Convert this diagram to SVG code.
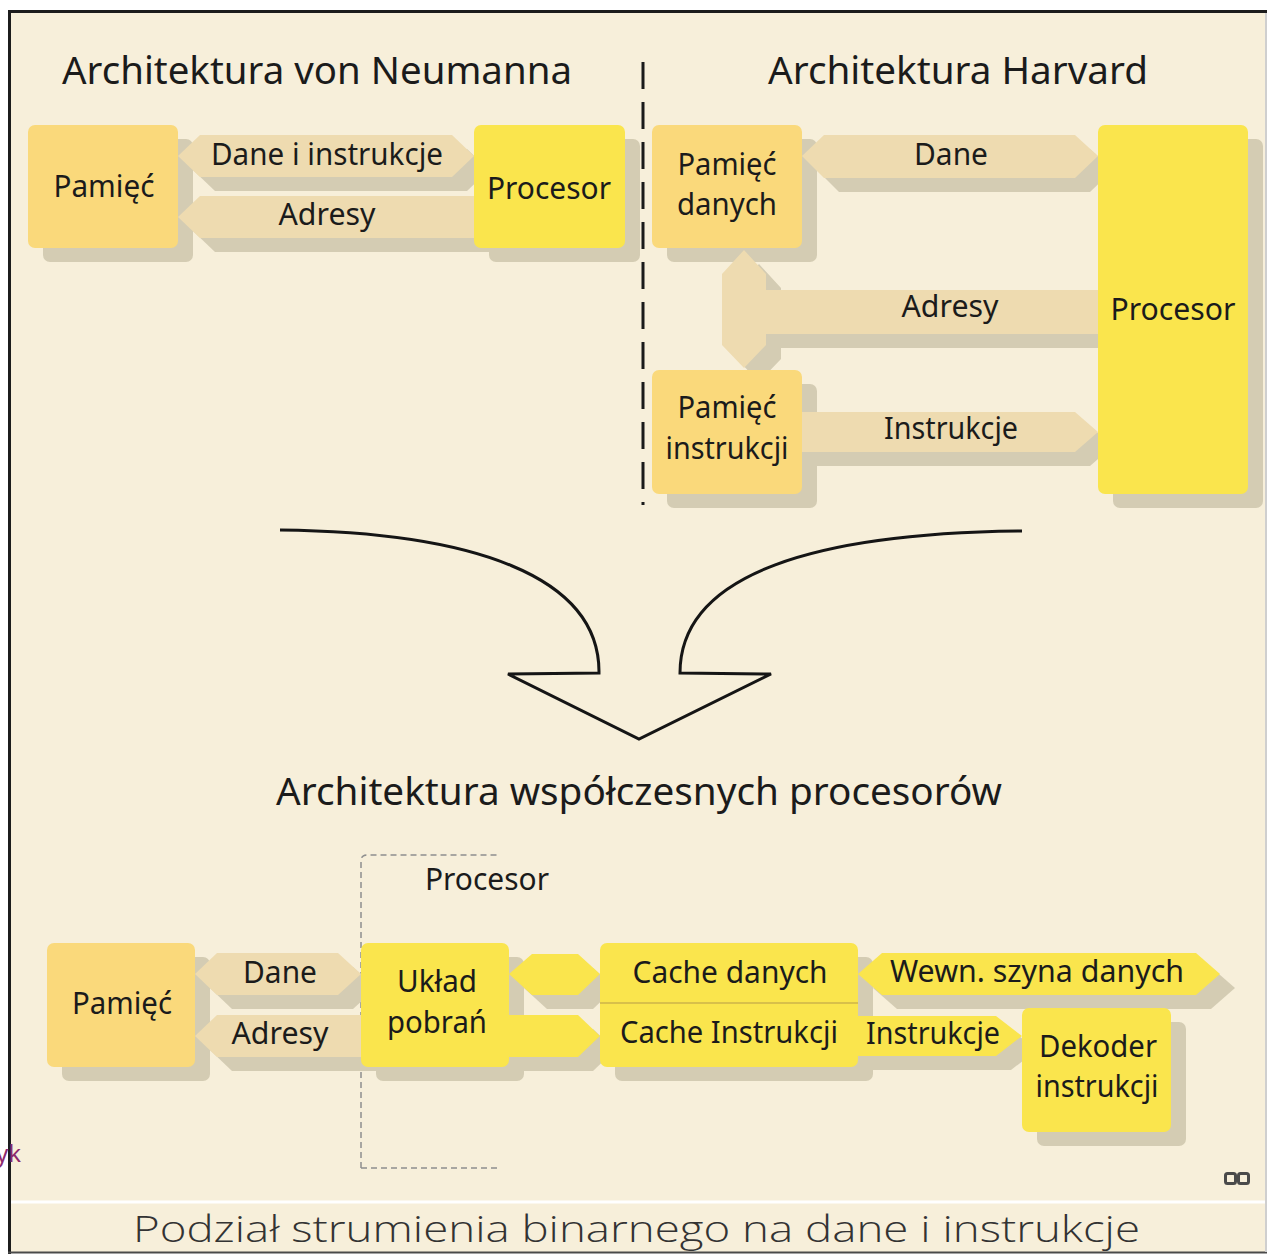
<svg xmlns="http://www.w3.org/2000/svg" width="1267" height="1254" viewBox="0 0 1267 1254">
  <style>
    text { font-family: "Noto Sans", "Open Sans", "DejaVu Sans", sans-serif; fill: #1b1b1b; }
    .lbl { font-size: 31px; text-anchor: middle; }
    .title { font-size: 39px; }
    .caption { font-family: "Open Sans", "DejaVu Sans", sans-serif; font-weight: 300; font-size: 37px; fill: #333333; }
    .mem { fill: #FAD97B; }
    .cpu { fill: #FAE54D; }
    .bus { fill: #EEDBB0; }
    .ybus { fill: #FAE54D; }
    .shadow { fill: #D4CCB3; }
  </style>

  <!-- page and frame -->
  <rect x="0" y="0" width="1267" height="1254" fill="#ffffff"/>
  <rect x="11" y="13" width="1254" height="1239" fill="#F7EFDA"/>
  <line x1="8" y1="11.5" x2="1267" y2="11.5" stroke="#1c1c1c" stroke-width="3"/>
  <line x1="9.5" y1="10" x2="9.5" y2="1254" stroke="#1c1c1c" stroke-width="3"/>
  <line x1="8" y1="1252.5" x2="1267" y2="1252.5" stroke="#4a4a4a" stroke-width="2"/>
  <line x1="1266" y1="13" x2="1266" y2="1252" stroke="#cfcfcf" stroke-width="2"/>
  <line x1="11" y1="1202" x2="1265" y2="1202" stroke="#ffffff" stroke-width="3"/>

  <!-- headings -->
  <text class="title" x="62" y="84" textLength="510" lengthAdjust="spacingAndGlyphs">Architektura von Neumanna</text>
  <text class="title" x="768" y="84" textLength="380" lengthAdjust="spacingAndGlyphs">Architektura Harvard</text>
  <text class="title" x="276" y="805" textLength="726" lengthAdjust="spacingAndGlyphs">Architektura współczesnych procesorów</text>

  <!-- separator between the two classic architectures -->
  <line x1="643" y1="62" x2="643" y2="505" stroke="#1a1a1a" stroke-width="3" stroke-dasharray="27 13"/>

  <!-- merging arrow -->
  <path d="M280,530 C470,532 600,575 599,673 L508,674 L639,739 L771,674 L680,673 C680,572 820,533 1022,531"
        fill="none" stroke="#151515" stroke-width="3" stroke-linejoin="miter"/>

  <!-- processor boundary (dashed) -->
  <path d="M361,1168 L361,861 Q361,855 367,855 L500,855 M361,1168 L500,1168"
        fill="none" stroke="#8f8f8f" stroke-width="1.5" stroke-dasharray="6 4"/>
  <text class="lbl" x="487" y="890" textLength="124" lengthAdjust="spacingAndGlyphs">Procesor</text>

  <!-- drop shadows of every block and bus -->
  <g id="shadows" class="shadow">
    <use href="#s-vn-mem" x="15" y="14"/>
    <use href="#s-vn-cpu" x="15" y="14"/>
    <use href="#s-vn-data" x="15" y="14"/>
    <use href="#s-vn-addr" x="15" y="14"/>
    <use href="#s-hv-dmem" x="15" y="14"/>
    <use href="#s-hv-imem" x="15" y="14"/>
    <use href="#s-hv-cpu" x="15" y="14"/>
    <use href="#s-hv-data" x="15" y="14"/>
    <use href="#s-hv-addr" x="15" y="14"/>
    <use href="#s-hv-instr" x="15" y="14"/>
    <use href="#s-md-mem" x="15" y="14"/>
    <use href="#s-md-fetch" x="15" y="14"/>
    <use href="#s-md-cache" x="15" y="14"/>
    <use href="#s-md-dec" x="15" y="14"/>
    <use href="#s-md-data" x="15" y="14"/>
    <use href="#s-md-addr" x="15" y="14"/>
    <use href="#s-md-fd" x="15" y="14"/>
    <use href="#s-md-fi" x="15" y="14"/>
    <use href="#s-md-bus" x="15" y="14"/>
    <use href="#s-md-ins" x="15" y="14"/>
  </g>

  <!-- buses -->
  <g id="connectors">
    <g class="bus">
      <polygon id="s-vn-data" points="178,156 200,135 452,135 474,156 452,177 200,177"/>
      <polygon id="s-vn-addr" points="178,217 200,196 474,196 474,238 200,238"/>
      <polygon id="s-hv-data" points="802,156 824,135 1075,135 1098,156 1075,178 824,178"/>
      <polygon id="s-hv-addr" points="744,250 766,274 766,290 1098,290 1098,334 766,334 766,345 744,368 722,345 722,274"/>
      <polygon id="s-hv-instr" points="802,412 1075,412 1098,432 1075,452 802,452"/>
      <polygon id="s-md-data" points="195,974 217,953 338,953 361,974 338,995 217,995"/>
      <polygon id="s-md-addr" points="195,1036 217,1015 361,1015 361,1057 217,1057"/>
    </g>
    <g class="ybus">
      <polygon id="s-md-fd" points="509,974 532,954 578,954 600,974 578,995 532,995"/>
      <polygon id="s-md-fi" points="509,1015 578,1015 600,1036 578,1057 509,1057"/>
      <polygon id="s-md-bus" points="858,974 882,953 1196,953 1220,974 1196,995 882,995"/>
      <polygon id="s-md-ins" points="858,1016 996,1016 1022,1036 996,1056 858,1056"/>
    </g>
    <text class="lbl" x="327" y="165" textLength="232" lengthAdjust="spacingAndGlyphs">Dane i instrukcje</text>
    <text class="lbl" x="327" y="225" textLength="97" lengthAdjust="spacingAndGlyphs">Adresy</text>
    <text class="lbl" x="951" y="165" textLength="74" lengthAdjust="spacingAndGlyphs">Dane</text>
    <text class="lbl" x="950" y="317" textLength="97" lengthAdjust="spacingAndGlyphs">Adresy</text>
    <text class="lbl" x="951" y="439" textLength="134" lengthAdjust="spacingAndGlyphs">Instrukcje</text>
    <text class="lbl" x="280" y="983" textLength="74" lengthAdjust="spacingAndGlyphs">Dane</text>
    <text class="lbl" x="280" y="1044" textLength="97" lengthAdjust="spacingAndGlyphs">Adresy</text>
    <text class="lbl" x="1037" y="982" textLength="294" lengthAdjust="spacingAndGlyphs">Wewn. szyna danych</text>
    <text class="lbl" x="933" y="1044" textLength="134" lengthAdjust="spacingAndGlyphs">Instrukcje</text>
  </g>

  <!-- von Neumann -->
  <g id="vn-memory" class="mem">
    <rect id="s-vn-mem" x="28" y="125" width="150" height="123" rx="7"/>
    <text class="lbl" x="104" y="197" textLength="101" lengthAdjust="spacingAndGlyphs">Pamięć</text>
  </g>
  <g id="vn-processor" class="cpu">
    <rect id="s-vn-cpu" x="474" y="125" width="151" height="123" rx="7"/>
    <text class="lbl" x="549" y="199" textLength="124" lengthAdjust="spacingAndGlyphs">Procesor</text>
  </g>

  <!-- Harvard -->
  <g id="hv-data-memory" class="mem">
    <rect id="s-hv-dmem" x="652" y="125" width="150" height="123" rx="7"/>
    <text class="lbl" x="727" y="175" textLength="99" lengthAdjust="spacingAndGlyphs">Pamięć</text>
    <text class="lbl" x="727" y="215" textLength="100" lengthAdjust="spacingAndGlyphs">danych</text>
  </g>
  <g id="hv-instr-memory" class="mem">
    <rect id="s-hv-imem" x="652" y="370" width="150" height="124" rx="7"/>
    <text class="lbl" x="727" y="418" textLength="99" lengthAdjust="spacingAndGlyphs">Pamięć</text>
    <text class="lbl" x="727" y="459" textLength="123" lengthAdjust="spacingAndGlyphs">instrukcji</text>
  </g>
  <g id="hv-processor" class="cpu">
    <rect id="s-hv-cpu" x="1098" y="125" width="150" height="369" rx="7"/>
    <text class="lbl" x="1173" y="320" textLength="125" lengthAdjust="spacingAndGlyphs">Procesor</text>
  </g>

  <!-- modern processor -->
  <g id="md-memory" class="mem">
    <rect id="s-md-mem" x="47" y="943" width="148" height="124" rx="7"/>
    <text class="lbl" x="122" y="1014" textLength="100" lengthAdjust="spacingAndGlyphs">Pamięć</text>
  </g>
  <g id="md-fetch" class="cpu">
    <rect id="s-md-fetch" x="361" y="943" width="148" height="124" rx="7"/>
    <text class="lbl" x="437" y="992" textLength="80" lengthAdjust="spacingAndGlyphs">Układ</text>
    <text class="lbl" x="437" y="1033" textLength="100" lengthAdjust="spacingAndGlyphs">pobrań</text>
  </g>
  <g id="md-cache" class="cpu">
    <rect id="s-md-cache" x="600" y="943" width="258" height="124" rx="7"/>
    <line x1="600" y1="1003" x2="858" y2="1003" stroke="#D8C04A" stroke-width="2"/>
    <text class="lbl" x="730" y="983" textLength="195" lengthAdjust="spacingAndGlyphs">Cache danych</text>
    <text class="lbl" x="729" y="1043" textLength="218" lengthAdjust="spacingAndGlyphs">Cache Instrukcji</text>
  </g>
  <g id="md-decoder" class="cpu">
    <rect id="s-md-dec" x="1022" y="1008" width="149" height="124" rx="7"/>
    <text class="lbl" x="1098" y="1057" textLength="118" lengthAdjust="spacingAndGlyphs">Dekoder</text>
    <text class="lbl" x="1097" y="1097" textLength="123" lengthAdjust="spacingAndGlyphs">instrukcji</text>
  </g>

  <!-- small corner mark -->
  <g fill="none" stroke="#4a4a4a" stroke-width="3">
    <rect x="1225.5" y="1173.5" width="10" height="10" rx="2"/>
    <rect x="1238.5" y="1173.5" width="10" height="10" rx="2"/>
  </g>

  <!-- caption -->
  <text class="caption" x="133" y="1242" textLength="1007" lengthAdjust="spacingAndGlyphs">Podział strumienia binarnego na dane i instrukcje</text>

  <text x="21" y="1162" text-anchor="end" font-size="24" style="fill:#8C2A6E">yk</text>
</svg>
